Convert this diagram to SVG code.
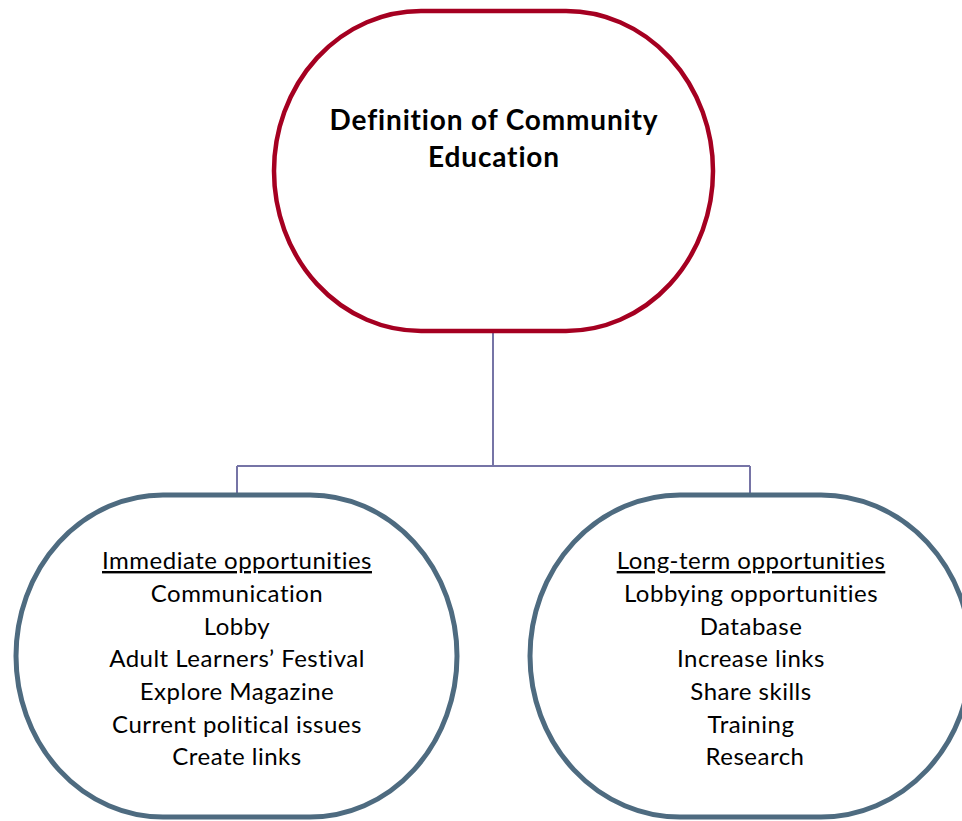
<svg xmlns="http://www.w3.org/2000/svg" width="962" height="821" viewBox="0 0 962 821">
<style>
.top{fill:#fff;stroke:#A50021;stroke-width:4.5}
.sub{fill:#fff;stroke:#4E6B80;stroke-width:5}
.conn{fill:none;stroke:#7674A6;stroke-width:2}
text{font-family:Lato,"Open Sans","Liberation Sans",sans-serif;fill:#000;text-anchor:middle}
.title{font-size:28px;font-weight:bold;letter-spacing:0.85px}
.body{font-size:24px;letter-spacing:0.5px}
.hd{text-decoration:underline}
</style>
<rect width="962" height="821" fill="#fff"/>
<g id="connectors">
<path class="conn" d="M493 333 V466 M237 466 H750 M237 466 V495 M750 466 V495"/>
</g>
<g id="node-definition">
<rect class="top" x="274" y="11" width="439" height="320" rx="147" ry="160"/>
<text class="title" x="494" y="130">Definition of Community</text>
<text class="title" x="494" y="167">Education</text>
</g>
<g id="node-immediate">
<rect class="sub" x="16" y="495" width="441" height="322" rx="147" ry="161"/>
<text class="body hd" x="237" y="569">Immediate opportunities</text>
<text class="body" x="237" y="602">Communication</text>
<text class="body" x="237" y="635">Lobby</text>
<text class="body" x="237" y="667">Adult Learners’ Festival</text>
<text class="body" x="237" y="700">Explore Magazine</text>
<text class="body" x="237" y="733">Current political issues</text>
<text class="body" x="237" y="765">Create links</text>
</g>
<g id="node-longterm">
<rect class="sub" x="530" y="495" width="441" height="322" rx="150" ry="161"/>
<text class="body hd" x="751" y="569">Long-term opportunities</text>
<text class="body" x="751" y="602">Lobbying opportunities</text>
<text class="body" x="751" y="635">Database</text>
<text class="body" x="751" y="667">Increase links</text>
<text class="body" x="751" y="700">Share skills</text>
<text class="body" x="751" y="733">Training</text>
<text class="body" x="755" y="765">Research</text>
</g>
</svg>
